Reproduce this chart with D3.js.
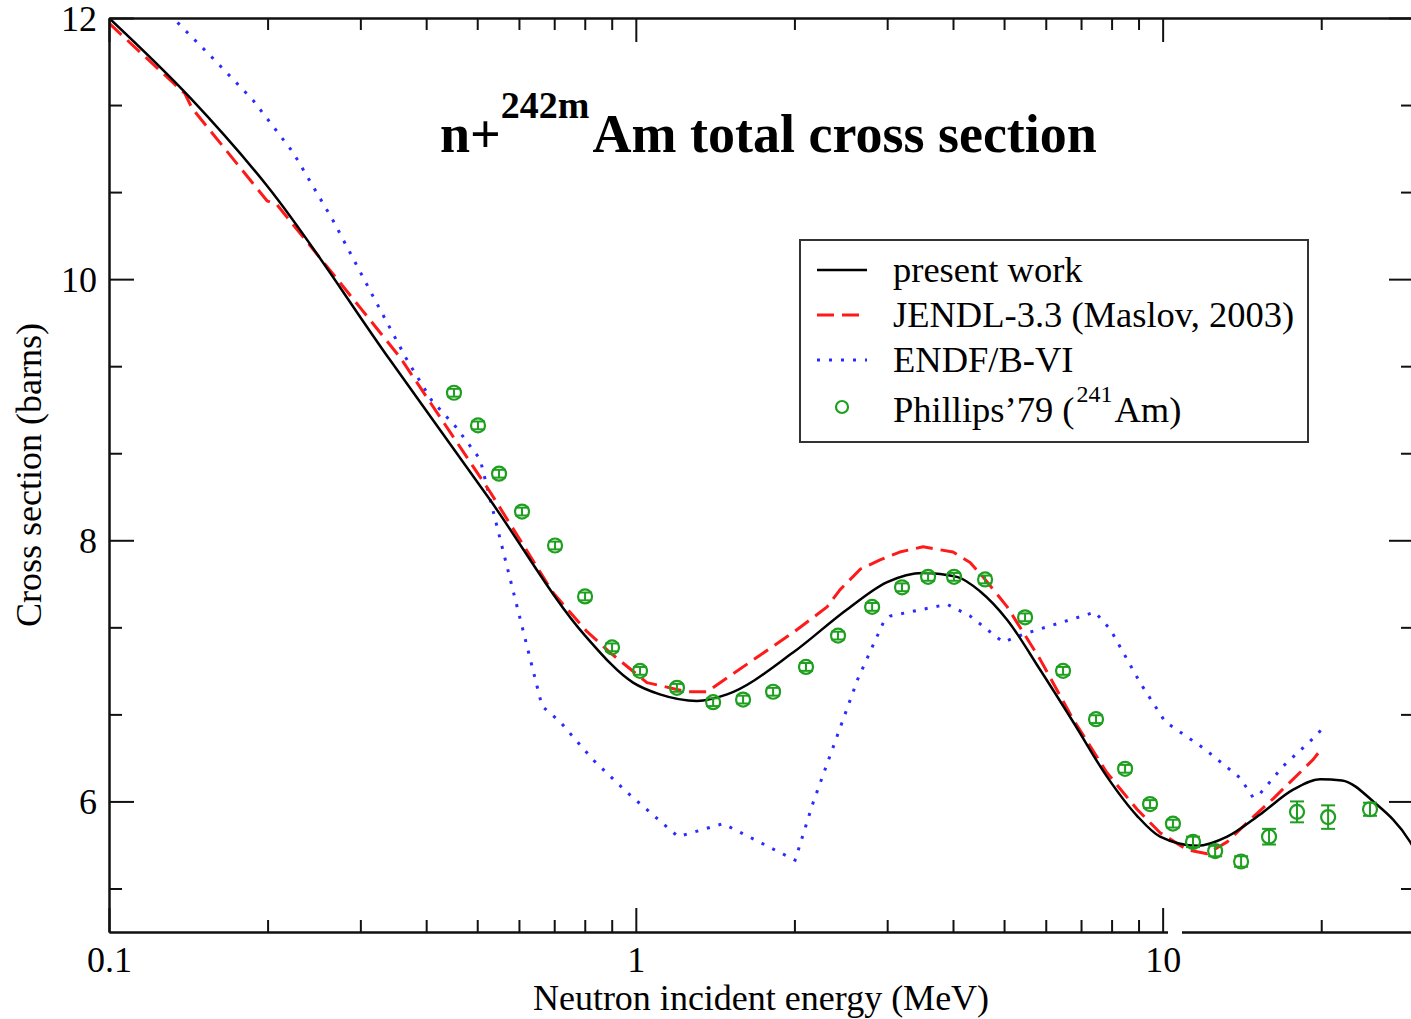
<!DOCTYPE html>
<html>
<head>
<meta charset="utf-8">
<script src="https://cdn.jsdelivr.net/npm/d3@7"></script>
<style>
  html, body { margin: 0; padding: 0; background: #fff; }
  svg { display: block; }
  text { font-family: "Liberation Serif", "Times New Roman", serif; fill: #000; }
</style>
</head>
<body>
<svg id="chart" width="1411" height="1019"></svg>
<script>
// ---------------- DATA ----------------
// present work
const presentE  = [0.1, 0.1425, 0.2, 0.3416, 0.5287, 0.801, 0.988, 1.111, 1.307, 1.49, 1.988, 2.517, 3.0, 3.51, 4.07, 4.5, 5.07, 5.85, 6.76, 7.84, 8.94, 9.89, 11.63, 13.26, 15.31, 17.69, 19.9, 21.9, 25.1, 29.5, 30];
const presentXS = [12.0, 11.39, 10.71, 9.38, 8.31, 7.27, 6.91, 6.82, 6.77, 6.82, 7.14, 7.47, 7.68, 7.75, 7.72, 7.61, 7.39, 7.01, 6.61, 6.19, 5.89, 5.73, 5.66, 5.73, 5.90, 6.09, 6.17, 6.16, 6.00, 5.69, 5.64];

// JENDL-3.3 (Maslov, 2003)
const jendlE  = [0.1, 0.1394, 0.1437, 0.1995, 0.2084, 0.3, 0.357, 0.529, 0.696, 0.808, 0.8935, 1.05, 1.251, 1.365, 1.721, 2.0, 2.307, 2.44, 2.67, 2.908, 3.17, 3.51, 4.0, 4.31, 4.56, 5.07, 5.85, 6.76, 7.84, 8.94, 9.89, 11.13, 12.15, 13.26, 14.66, 16.2, 19.3, 20.0];
const jendlXS = [11.96, 11.42, 11.31, 10.60, 10.57, 9.78, 9.40, 8.37, 7.60, 7.30, 7.14, 6.91, 6.84, 6.84, 7.12, 7.30, 7.49, 7.62, 7.78, 7.85, 7.91, 7.95, 7.91, 7.83, 7.72, 7.49, 7.09, 6.63, 6.22, 5.94, 5.76, 5.63, 5.60, 5.69, 5.86, 6.02, 6.32, 6.40];

// ENDF/B-VI
const endfE  = [0.1, 0.1323, 0.1576, 0.1877, 0.2236, 0.2662, 0.317, 0.368, 0.41, 0.455, 0.5064, 0.6637, 0.718, 0.829, 0.962, 1.203, 1.464, 2.006, 2.17, 2.41, 2.64, 2.95, 3.04, 3.90, 4.31, 4.98, 5.53, 7.44, 7.95, 9.06, 10.11, 11.94, 14.03, 14.85, 15.31, 16.93, 19.64, 20.0];
const endfXS = [12.48, 12.0, 11.69, 11.37, 10.97, 10.45, 9.87, 9.38, 9.07, 8.87, 8.62, 6.73, 6.61, 6.32, 6.07, 5.73, 5.83, 5.55, 5.99, 6.50, 6.94, 7.37, 7.42, 7.51, 7.42, 7.22, 7.29, 7.45, 7.32, 6.91, 6.61, 6.41, 6.18, 6.03, 6.06, 6.27, 6.51, 6.55];

// Phillips'79 (241Am)
const phillipsE   = [0.4517, 0.5017, 0.55, 0.6081, 0.7025, 0.801, 0.9013, 1.0186, 1.197, 1.402, 1.598, 1.822, 2.104, 2.42, 2.809, 3.201, 3.587, 4.018, 4.602, 5.481, 6.471, 7.474, 8.486, 9.465, 10.46, 11.42, 12.58, 14.09, 15.92, 17.99, 20.61, 24.75];
const phillipsXS  = [9.13, 8.88, 8.51, 8.22, 7.96, 7.57, 7.18, 7.00, 6.87, 6.76, 6.78, 6.84, 7.03, 7.27, 7.49, 7.64, 7.72, 7.72, 7.70, 7.41, 7.00, 6.63, 6.25, 5.98, 5.83, 5.69, 5.62, 5.54, 5.73, 5.92, 5.88, 5.94];
const phillipsErr = [0.03, 0.03, 0.03, 0.03, 0.03, 0.03, 0.03, 0.03, 0.03, 0.03, 0.03, 0.03, 0.03, 0.03, 0.03, 0.03, 0.03, 0.03, 0.03, 0.03, 0.03, 0.03, 0.03, 0.03, 0.03, 0.04, 0.04, 0.04, 0.06, 0.08, 0.09, 0.05];

// ticks
const xMajorTicks = [0.1, 1, 10];
const xMajorLabels = ["0.1", "1", "10"];
const xMinorTicks = [0.2, 0.3, 0.4, 0.5, 0.6, 0.7, 0.8, 0.9, 2, 3, 4, 5, 6, 7, 8, 9, 20];
const yMajorTicks = [6, 8, 10, 12];
const yMinorTicks = [5 + 1/3, 6 + 2/3, 7 + 1/3, 8 + 2/3, 9 + 1/3, 10 + 2/3, 11 + 1/3];

// ---------------- LAYOUT ----------------
const pLeft = 109, pRight = 1414, pTop = 18, pBottom = 932;
const svg = d3.select("#chart");
svg.append("rect").attr("width", 1411).attr("height", 1019).attr("fill", "#fff");

const x = d3.scaleLog().domain([0.1, 30]).range([pLeft, pRight]);
const y = d3.scaleLinear().domain([5, 12]).range([pBottom, pTop]);

svg.append("defs").append("clipPath").attr("id", "plotclip")
  .append("rect").attr("x", pLeft).attr("y", pTop).attr("width", pRight - pLeft).attr("height", pBottom - pTop);

const plot = svg.append("g").attr("clip-path", "url(#plotclip)");

function zip(es, vs) { return es.map((e, i) => [e, vs[i]]); }
const lineSmooth = d3.line().x(d => x(d[0])).y(d => y(d[1])).curve(d3.curveMonotoneX);
const lineLin = d3.line().x(d => x(d[0])).y(d => y(d[1]));

// ENDF/B-VI (blue dotted)
plot.append("path").datum(zip(endfE, endfXS)).attr("d", lineLin)
  .attr("fill", "none").attr("stroke", "#2b2bff").attr("stroke-width", 3)
  .attr("stroke-dasharray", "3,9");

// JENDL (red dashed)
plot.append("path").datum(zip(jendlE, jendlXS)).attr("d", lineLin)
  .attr("fill", "none").attr("stroke", "#ff1a1a").attr("stroke-width", 3)
  .attr("stroke-linejoin", "round")
  .attr("stroke-dasharray", "17,8");

// present work (black)
plot.append("path").datum(zip(presentE, presentXS)).attr("d", lineSmooth)
  .attr("fill", "none").attr("stroke", "#000").attr("stroke-width", 2.5);

// Phillips points
const green = "#1f9f1f";
const pts = plot.append("g").selectAll("g").data(phillipsE.map((e, i) => ({e, v: phillipsXS[i], err: phillipsErr[i]})))
  .join("g");
pts.append("line")
  .attr("x1", d => x(d.e)).attr("x2", d => x(d.e))
  .attr("y1", d => y(d.v + d.err)).attr("y2", d => y(d.v - d.err))
  .attr("stroke", green).attr("stroke-width", 2);
pts.append("line")
  .attr("x1", d => x(d.e) - 7).attr("x2", d => x(d.e) + 7)
  .attr("y1", d => y(d.v + d.err)).attr("y2", d => y(d.v + d.err))
  .attr("stroke", green).attr("stroke-width", 2);
pts.append("line")
  .attr("x1", d => x(d.e) - 7).attr("x2", d => x(d.e) + 7)
  .attr("y1", d => y(d.v - d.err)).attr("y2", d => y(d.v - d.err))
  .attr("stroke", green).attr("stroke-width", 2);
pts.append("circle")
  .attr("cx", d => x(d.e)).attr("cy", d => y(d.v)).attr("r", 7)
  .attr("fill", "none").attr("stroke", green).attr("stroke-width", 2.2);

// ---------------- AXES ----------------
const axisColor = "#111";
function styleAxis(g) {
  g.selectAll("path.domain").attr("stroke", axisColor).attr("stroke-width", 2);
  g.selectAll(".tick line").attr("stroke", axisColor).attr("stroke-width", 2);
}

// bottom
const gBottomMinor = svg.append("g").attr("transform", `translate(0,${pBottom})`)
  .call(d3.axisBottom(x).tickValues(xMinorTicks).tickSizeInner(-12).tickSizeOuter(0).tickFormat(""));
const gBottom = svg.append("g").attr("transform", `translate(0,${pBottom})`)
  .call(d3.axisBottom(x).tickValues(xMajorTicks).tickSizeInner(-24).tickSizeOuter(0)
    .tickFormat((d, i) => xMajorLabels[i]));
gBottom.selectAll("text").attr("y", 40).attr("dy", 0).attr("font-size", 36)
  .attr("font-family", "Liberation Serif, Times New Roman, serif").attr("fill", "#000");
[gBottomMinor, gBottom].forEach(styleAxis);

// top
const gTopMinor = svg.append("g").attr("transform", `translate(0,${pTop})`)
  .call(d3.axisTop(x).tickValues(xMinorTicks).tickSizeInner(-12).tickSizeOuter(0).tickFormat(""));
const gTop = svg.append("g").attr("transform", `translate(0,${pTop})`)
  .call(d3.axisTop(x).tickValues(xMajorTicks).tickSizeInner(-24).tickSizeOuter(0).tickFormat(""));
[gTopMinor, gTop].forEach(styleAxis);

// left
const gLeftMinor = svg.append("g").attr("transform", `translate(${pLeft},0)`)
  .call(d3.axisLeft(y).tickValues(yMinorTicks).tickSizeInner(-13).tickSizeOuter(0).tickFormat(""));
const gLeft = svg.append("g").attr("transform", `translate(${pLeft},0)`)
  .call(d3.axisLeft(y).tickValues(yMajorTicks).tickSizeInner(-25).tickSizeOuter(0).tickPadding(12)
    .tickFormat(d3.format("d")));
gLeft.selectAll("text").attr("x", -12).attr("dy", 12).attr("font-size", 36)
  .attr("font-family", "Liberation Serif, Times New Roman, serif").attr("fill", "#000");
[gLeftMinor, gLeft].forEach(styleAxis);

// right
const gRightMinor = svg.append("g").attr("transform", `translate(${pRight},0)`)
  .call(d3.axisRight(y).tickValues(yMinorTicks).tickSizeInner(-13).tickSizeOuter(0).tickFormat(""));
const gRight = svg.append("g").attr("transform", `translate(${pRight},0)`)
  .call(d3.axisRight(y).tickValues(yMajorTicks).tickSizeInner(-25).tickSizeOuter(0).tickFormat(""));
[gRightMinor, gRight].forEach(styleAxis);

// small break in the bottom axis line seen in the reference
svg.append("rect").attr("x", 1168).attr("y", pBottom - 3).attr("width", 14).attr("height", 6).attr("fill", "#fff");

// axis titles
svg.append("text").attr("x", 761).attr("y", 1010).attr("text-anchor", "middle")
  .attr("font-size", 36).text("Neutron incident energy (MeV)");
svg.append("text").attr("transform", "translate(41,475) rotate(-90)").attr("text-anchor", "middle")
  .attr("font-size", 36).text("Cross section (barns)");

// title
const title = svg.append("text").attr("x", 440).attr("y", 152).attr("font-weight", "bold").attr("font-size", 54);
title.append("tspan").text("n+");
title.append("tspan").attr("font-size", 38).attr("dy", -34).text("242m");
title.append("tspan").attr("dy", 34).attr("dx", 3).text("Am total cross section");

// ---------------- LEGEND ----------------
const lg = svg.append("g");
lg.append("rect").attr("x", 800).attr("y", 240).attr("width", 508).attr("height", 202)
  .attr("fill", "#fff").attr("stroke", "#333").attr("stroke-width", 2);
const legendRows = [
  {label: "present work", y: 270, stroke: "#000", dash: null, w: 2.5},
  {label: "JENDL-3.3 (Maslov, 2003)", y: 315, stroke: "#ff1a1a", dash: "17,8", w: 3},
  {label: "ENDF/B-VI", y: 360, stroke: "#2b2bff", dash: "3,9", w: 3}
];
legendRows.forEach(r => {
  lg.append("line").attr("x1", 817).attr("x2", 867).attr("y1", r.y).attr("y2", r.y)
    .attr("stroke", r.stroke).attr("stroke-width", r.w).attr("stroke-dasharray", r.dash);
  lg.append("text").attr("x", 893).attr("y", r.y + 12).attr("font-size", 36.5).text(r.label);
});
lg.append("circle").attr("cx", 842).attr("cy", 407).attr("r", 6)
  .attr("fill", "none").attr("stroke", green).attr("stroke-width", 2.2);
const ph = lg.append("text").attr("x", 893).attr("y", 422).attr("font-size", 36.5);
ph.append("tspan").text("Phillips\u201979 (");
ph.append("tspan").attr("font-size", 24).attr("dy", -20).attr("dx", 2).text("241");
ph.append("tspan").attr("dy", 20).attr("dx", 2).text("Am)");
</script>
</body>
</html>
